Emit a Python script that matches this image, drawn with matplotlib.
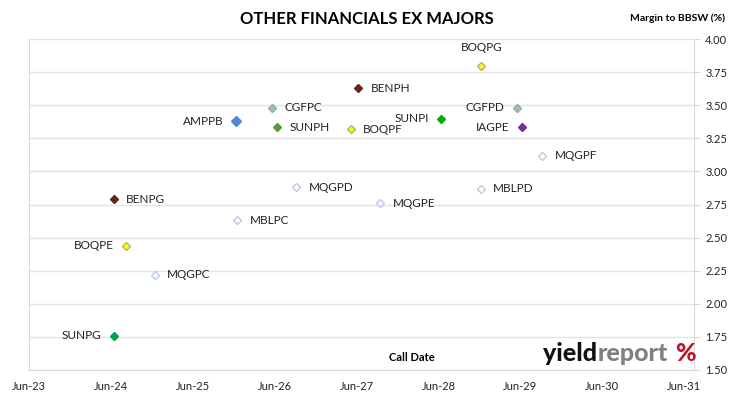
import matplotlib.pyplot as plt
import matplotlib.dates as mdates
import datetime as dt

plt.rcParams['font.family'] = ['Lato', 'DejaVu Sans']

names = ["BOQPG", "BENPH", "CGFPC", "AMPPB", "SUNPH", "BOQPF", "SUNPI", "CGFPD", "IAGPE",
         "MQGPF", "MBLPD", "MQGPD", "BENPG", "MQGPE", "MBLPC", "BOQPE", "MQGPC", "SUNPG"]
call_dates = ["2028-12-08", "2027-06-08", "2026-05-20", "2025-12-12", "2026-06-12", "2027-05-05",
              "2028-06-12", "2029-05-18", "2029-06-08", "2029-09-05", "2028-12-05", "2026-09-05",
              "2024-06-12", "2027-09-15", "2025-12-15", "2024-08-06", "2024-12-12", "2024-06-12"]
margins = [3.80, 3.63, 3.48, 3.38, 3.335, 3.32, 3.40, 3.48, 3.335,
           3.12, 2.87, 2.88, 2.79, 2.76, 2.63, 2.44, 2.22, 1.76]
# label side: r = right, l = left, t = top
sides = ["t", "r", "r", "l", "r", "r", "l", "l", "l",
         "r", "r", "r", "r", "r", "r", "l", "r", "l"]

issuer_style = {
    "BOQ": ("#ffff00", "#b0b080", 4.5),
    "BEN": ("#632523", "#632523", 4.5),
    "CGF": ("#a9c08f", "#8ea9c9", 4.5),
    "AMP": ("#4f88d4", "#4f88d4", 5.5),
    "IAG": ("#7030a0", "#7030a0", 4.5),
    "MQG": ("white", "#b9c9e8", 4.5),
    "MBL": ("white", "#b9c9e8", 4.5),
}
sun_colors = {"SUNPH": "#5b9a3a", "SUNPI": "#00b000", "SUNPG": "#00a050"}

ticks = [dt.date(y, 6, 1) for y in range(2023, 2032)]
tick_labels = [d.strftime("Jun-%y") for d in ticks]
yticks = [1.50, 1.75, 2.00, 2.25, 2.50, 2.75, 3.00, 3.25, 3.50, 3.75, 4.00]

fig = plt.figure(figsize=(7.3, 3.99), dpi=100)
ax = fig.add_axes([0.0397, 0.0727, 0.911, 0.8293])

for n, d, m, s in zip(names, call_dates, margins, sides):
    x = mdates.date2num(dt.date.fromisoformat(d))
    if n in sun_colors:
        fc = ec = sun_colors[n]
        ms = 4.5
    else:
        fc, ec, ms = issuer_style[n[:3]]
    ax.plot(x, m, marker="D", ms=ms, mfc=fc, mec=ec, mew=1.0, ls="none", zorder=3)
    if s == "r":
        ax.annotate(n, (x, m), xytext=(9, 0), textcoords="offset points",
                    ha="left", va="center", fontsize=8.5, color="#222222")
    elif s == "l":
        ax.annotate(n, (x, m), xytext=(-9, 0), textcoords="offset points",
                    ha="right", va="center", fontsize=8.5, color="#222222")
    else:
        ax.annotate(n, (x, m), xytext=(0, 9), textcoords="offset points",
                    ha="center", va="bottom", fontsize=8.5, color="#222222")

ax.set_xlim(mdates.date2num(ticks[0]), mdates.date2num(dt.date(2031, 7, 15)))
ax.set_ylim(1.5, 4.0)
ax.set_xticks([mdates.date2num(t) for t in ticks])
ax.set_xticklabels(tick_labels, fontsize=8, color="#222222")
ax.set_yticks(yticks)
ax.set_yticklabels([f"{v:.2f}" for v in yticks], fontsize=8, color="#222222")
ax.yaxis.tick_right()
ax.tick_params(axis="y", length=4, color="#d9d9d9", pad=4)
ax.tick_params(axis="x", length=0, pad=8)
ax.grid(axis="y", color="#e3e3e3", lw=1.0)
ax.set_axisbelow(True)
for sp in ["left", "right", "bottom"]:
    ax.spines[sp].set_color("#d9d9d9")
ax.spines["top"].set_visible(False)

fig.text(0.503, 0.952, "OTHER FINANCIALS EX MAJORS", ha="center", va="center",
         fontsize=12, fontweight="bold")
fig.text(0.993, 0.955, "Margin to BBSW (%)", ha="right", va="center",
         fontsize=7.5, fontweight="bold")
ax.text(0.576, 0.02, "Call Date", transform=ax.transAxes, ha="center", va="bottom",
        fontsize=8, fontweight="bold")

# watermark
t1 = ax.text(0.773, 0.026, "yield", transform=ax.transAxes, ha="left", va="baseline",
             fontsize=18, fontweight="black", color="#111111")
t2 = ax.annotate("report", xy=(1, 0), xycoords=t1, xytext=(0.5, 0), textcoords="offset points",
                 ha="left", va="bottom", fontsize=18, fontweight="black", color="#808080")
ax.annotate("%", xy=(1, 0), xycoords=t2, xytext=(5, 0), textcoords="offset points",
            ha="left", va="bottom", fontsize=18, fontweight="black", color="#c0102a")

fig.savefig("out.png", dpi=100, facecolor="white")
